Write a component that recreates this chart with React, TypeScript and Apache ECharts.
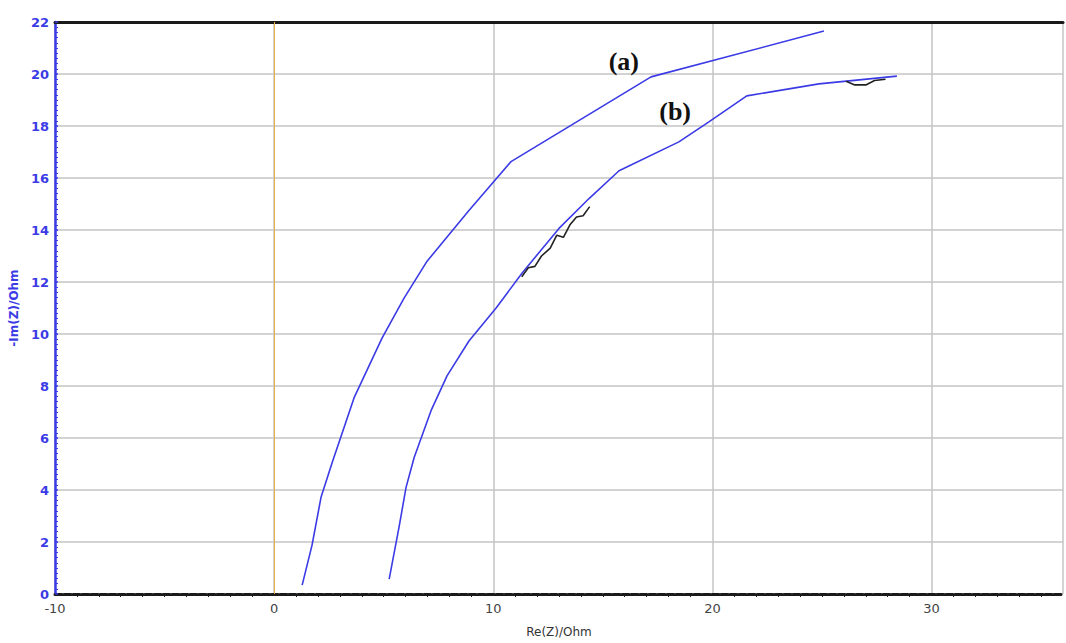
import React, { useEffect, useRef } from "react";
import * as echarts from "echarts";

const xTicks = [-10, 0, 10, 20, 30];
const curveA: [number, number][] = [
  [1.28, 0.34], [1.73, 1.88], [2.14, 3.72], [2.65, 5.06], [3.65, 7.55], [4.93, 9.85],
  [5.93, 11.38], [6.98, 12.8], [8.89, 14.75], [10.81, 16.63], [17.2, 19.89], [25.09, 21.65],
];
const curveB: [number, number][] = [
  [5.25, 0.57], [5.7, 2.57], [6.02, 4.1], [6.39, 5.25], [7.16, 7.05], [7.89, 8.39],
  [8.89, 9.73], [10.13, 11.0], [11.31, 12.34], [13.0, 14.06], [14.37, 15.21], [15.74, 16.28],
  [18.47, 17.39], [19.84, 18.16], [21.57, 19.16], [24.86, 19.62], [28.42, 19.92],
];
const noiseB1: [number, number][] = [
  [11.3, 12.2], [11.6, 12.55], [11.9, 12.6], [12.2, 13.0], [12.6, 13.3], [12.9, 13.8],
  [13.2, 13.72], [13.5, 14.2], [13.8, 14.5], [14.1, 14.55], [14.4, 14.9],
];
const noiseB2: [number, number][] = [
  [26.1, 19.72], [26.5, 19.58], [27.0, 19.58], [27.4, 19.75], [27.9, 19.8],
];
const labelA: [number, number] = [15.96, 20.5];
const labelB: [number, number] = [18.3, 18.54];

export default function App() {
  const ref = useRef<HTMLDivElement>(null);
  useEffect(() => {
    const chart = echarts.init(ref.current!, null, { renderer: "svg" });
    const blue = "#3b3be6";
    chart.setOption({
      animation: false,
      backgroundColor: "#ffffff",
      grid: { left: 55, right: 2, top: 22, bottom: 46 },
      xAxis: [
        {
          type: "value",
          min: -10,
          max: 36,
          interval: 10,
          name: "Re(Z)/Ohm",
          nameLocation: "middle",
          nameGap: 32,
          nameTextStyle: { color: "#333", fontSize: 12, fontFamily: "DejaVu Sans" },
          axisLine: { onZero: false, lineStyle: { color: "#1a1a1a", width: 3, type: [7, 2] } },
          axisTick: { show: false },
          minorTick: { show: true, splitNumber: 10, length: 3, lineStyle: { color: "#1a1a1a", width: 1 } },
          axisLabel: {
            color: "#444",
            fontSize: 13,
            fontFamily: "DejaVu Sans",
            margin: 8,
            formatter: (v: number) => (xTicks.includes(v) ? String(v) : ""),
          },
          splitLine: { show: true, lineStyle: { color: "#c4c4c4", width: 1.5 } },
        },
        {
          type: "value",
          position: "top",
          min: -10,
          max: 36,
          axisLine: { show: true, onZero: false, lineStyle: { color: "#1a1a1a", width: 3 } },
          axisTick: { show: false },
          axisLabel: { show: false },
          splitLine: { show: false },
        },
      ],
      yAxis: {
        type: "value",
        min: 0,
        max: 22,
        interval: 2,
        name: "-Im(Z)/Ohm",
        nameLocation: "middle",
        nameGap: 33,
        nameTextStyle: { color: blue, fontSize: 12, fontWeight: "bold", fontFamily: "DejaVu Sans" },
        axisLine: { show: true, onZero: false, lineStyle: { color: blue, width: 2.5 } },
        axisTick: { show: true, inside: true, length: 3, lineStyle: { color: blue, width: 1.5 } },
        minorTick: { show: true, splitNumber: 10, length: 3, lineStyle: { color: blue, width: 1 } },
        axisLabel: { color: blue, fontSize: 13, fontWeight: "bold", fontFamily: "DejaVu Sans", margin: 6 },
        splitLine: { show: true, lineStyle: { color: "#c4c4c4", width: 1.5 } },
      },
      series: [
        {
          type: "line",
          data: curveA,
          symbol: "none",
          lineStyle: { color: blue, width: 1.6 },
          markLine: {
            symbol: "none",
            silent: true,
            label: { show: false },
            lineStyle: { color: "#e8b04a", width: 1, type: "solid" },
            data: [{ xAxis: 0 }],
          },
          markPoint: {
            symbol: "circle",
            symbolSize: 1,
            itemStyle: { color: "rgba(0,0,0,0)" },
            label: {
              show: true,
              color: "#111",
              fontSize: 26,
              fontWeight: "bold",
              fontFamily: "Liberation Serif",
              formatter: (p: any) => p.name,
            },
            data: [
              { name: "(a)", coord: labelA },
              { name: "(b)", coord: labelB },
            ],
          },
        },
        { type: "line", data: curveB, symbol: "none", lineStyle: { color: blue, width: 1.6 } },
        { type: "line", data: noiseB1, symbol: "none", lineStyle: { color: "#222", width: 1.6 } },
        { type: "line", data: noiseB2, symbol: "none", lineStyle: { color: "#222", width: 1.6 } },
      ],
    });
    return () => chart.dispose();
  }, []);
  return (
    <div
      ref={ref}
      style={{ position: "fixed", left: 0, top: 0, width: 1066, height: 643 }}
    />
  );
}
